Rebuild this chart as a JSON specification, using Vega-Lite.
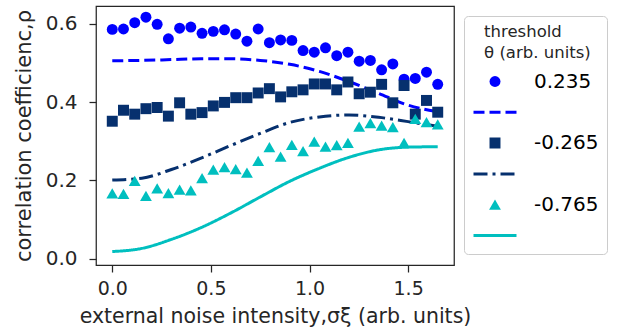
{
  "$schema": "https://vega.github.io/schema/vega-lite/v6.json",
  "width": 358,
  "height": 259,
  "autosize": {"type": "none"},
  "padding": {"left": 96, "top": 6, "right": 164, "bottom": 70},
  "config": {
    "font": "DejaVu Sans",
    "view": {"stroke": "#262626", "strokeWidth": 1.25},
    "axis": {
      "grid": false, "domain": false, "tickColor": "#262626", "tickWidth": 1.25, "tickSize": 7,
      "labelFontSize": 20, "titleFontSize": 20.5, "labelColor": "#262626", "titleColor": "#262626",
      "titleFontWeight": "normal"
    }
  },
  "datasets": {
    "pts": [
      {"key":"p1","x":0,"y":0.585},{"key":"p1","x":0.0569,"y":0.586},{"key":"p1","x":0.1138,"y":0.602},{"key":"p1","x":0.1707,"y":0.616},{"key":"p1","x":0.2276,"y":0.598},{"key":"p1","x":0.2845,"y":0.561},{"key":"p1","x":0.3414,"y":0.588},{"key":"p1","x":0.3983,"y":0.591},{"key":"p1","x":0.4552,"y":0.575},{"key":"p1","x":0.5121,"y":0.580},{"key":"p1","x":0.569,"y":0.584},{"key":"p1","x":0.6259,"y":0.573},{"key":"p1","x":0.6828,"y":0.555},{"key":"p1","x":0.7397,"y":0.586},{"key":"p1","x":0.7966,"y":0.551},{"key":"p1","x":0.8534,"y":0.558},{"key":"p1","x":0.9103,"y":0.557},{"key":"p1","x":0.9672,"y":0.531},{"key":"p1","x":1.0241,"y":0.527},{"key":"p1","x":1.081,"y":0.538},{"key":"p1","x":1.1379,"y":0.518},{"key":"p1","x":1.1948,"y":0.527},{"key":"p1","x":1.2517,"y":0.504},{"key":"p1","x":1.3086,"y":0.506},{"key":"p1","x":1.3655,"y":0.482},{"key":"p1","x":1.4224,"y":0.497},{"key":"p1","x":1.4793,"y":0.458},{"key":"p1","x":1.5362,"y":0.460},{"key":"p1","x":1.5931,"y":0.476},{"key":"p1","x":1.65,"y":0.445},
      {"key":"p2","x":0,"y":0.351},{"key":"p2","x":0.0569,"y":0.379},{"key":"p2","x":0.1138,"y":0.369},{"key":"p2","x":0.1707,"y":0.383},{"key":"p2","x":0.2276,"y":0.386},{"key":"p2","x":0.2845,"y":0.364},{"key":"p2","x":0.3414,"y":0.398},{"key":"p2","x":0.3983,"y":0.369},{"key":"p2","x":0.4552,"y":0.373},{"key":"p2","x":0.5121,"y":0.390},{"key":"p2","x":0.569,"y":0.399},{"key":"p2","x":0.6259,"y":0.411},{"key":"p2","x":0.6828,"y":0.411},{"key":"p2","x":0.7397,"y":0.423},{"key":"p2","x":0.7966,"y":0.434},{"key":"p2","x":0.8534,"y":0.413},{"key":"p2","x":0.9103,"y":0.426},{"key":"p2","x":0.9672,"y":0.431},{"key":"p2","x":1.0241,"y":0.446},{"key":"p2","x":1.081,"y":0.446},{"key":"p2","x":1.1379,"y":0.431},{"key":"p2","x":1.1948,"y":0.451},{"key":"p2","x":1.2517,"y":0.421},{"key":"p2","x":1.3086,"y":0.425},{"key":"p2","x":1.3655,"y":0.445},{"key":"p2","x":1.4224,"y":0.398},{"key":"p2","x":1.4793,"y":0.442},{"key":"p2","x":1.5362,"y":0.369},{"key":"p2","x":1.5931,"y":0.404},{"key":"p2","x":1.65,"y":0.374},
      {"key":"p3","x":0,"y":0.167},{"key":"p3","x":0.0569,"y":0.166},{"key":"p3","x":0.1138,"y":0.199},{"key":"p3","x":0.1707,"y":0.161},{"key":"p3","x":0.2276,"y":0.180},{"key":"p3","x":0.2845,"y":0.168},{"key":"p3","x":0.3414,"y":0.177},{"key":"p3","x":0.3983,"y":0.175},{"key":"p3","x":0.4552,"y":0.206},{"key":"p3","x":0.5121,"y":0.228},{"key":"p3","x":0.569,"y":0.234},{"key":"p3","x":0.6259,"y":0.229},{"key":"p3","x":0.6828,"y":0.220},{"key":"p3","x":0.7397,"y":0.250},{"key":"p3","x":0.7966,"y":0.285},{"key":"p3","x":0.8534,"y":0.261},{"key":"p3","x":0.9103,"y":0.291},{"key":"p3","x":0.9672,"y":0.275},{"key":"p3","x":1.0241,"y":0.299},{"key":"p3","x":1.081,"y":0.286},{"key":"p3","x":1.1379,"y":0.290},{"key":"p3","x":1.1948,"y":0.296},{"key":"p3","x":1.2517,"y":0.337},{"key":"p3","x":1.3086,"y":0.346},{"key":"p3","x":1.3655,"y":0.340},{"key":"p3","x":1.4224,"y":0.336},{"key":"p3","x":1.4793,"y":0.296},{"key":"p3","x":1.5362,"y":0.357},{"key":"p3","x":1.5931,"y":0.349},{"key":"p3","x":1.65,"y":0.343}
    ],
    "lines": [
      {"key":"l1","x":0,"y":0.505},{"key":"l1","x":0.15,"y":0.506},{"key":"l1","x":0.3,"y":0.508},{"key":"l1","x":0.45,"y":0.510},{"key":"l1","x":0.6,"y":0.510},{"key":"l1","x":0.75,"y":0.506},{"key":"l1","x":0.9,"y":0.496},{"key":"l1","x":1.05,"y":0.478},{"key":"l1","x":1.2,"y":0.452},{"key":"l1","x":1.35,"y":0.422},{"key":"l1","x":1.5,"y":0.392},{"key":"l1","x":1.65,"y":0.375},
      {"key":"l2","x":0,"y":0.201},{"key":"l2","x":0.15,"y":0.206},{"key":"l2","x":0.3,"y":0.228},{"key":"l2","x":0.45,"y":0.257},{"key":"l2","x":0.6,"y":0.289},{"key":"l2","x":0.75,"y":0.320},{"key":"l2","x":0.9,"y":0.348},{"key":"l2","x":1.05,"y":0.362},{"key":"l2","x":1.2,"y":0.367},{"key":"l2","x":1.35,"y":0.361},{"key":"l2","x":1.5,"y":0.350},{"key":"l2","x":1.65,"y":0.338},
      {"key":"l3","x":0,"y":0.019},{"key":"l3","x":0.15,"y":0.027},{"key":"l3","x":0.3,"y":0.050},{"key":"l3","x":0.45,"y":0.080},{"key":"l3","x":0.6,"y":0.117},{"key":"l3","x":0.75,"y":0.158},{"key":"l3","x":0.9,"y":0.198},{"key":"l3","x":1.05,"y":0.231},{"key":"l3","x":1.2,"y":0.259},{"key":"l3","x":1.35,"y":0.278},{"key":"l3","x":1.5,"y":0.285},{"key":"l3","x":1.65,"y":0.286}
    ]
  },
  "encoding": {
    "x": {"field": "x", "type": "quantitative",
      "scale": {"domain": [-0.0825, 1.7325], "nice": false, "zero": false},
      "axis": {"values": [0, 0.5, 1, 1.5], "format": ".1f", "title": "external noise intensity,σξ (arb. units)", "labelFontSize": 19, "labelPadding": 7, "titlePadding": 8}},
    "y": {"field": "y", "type": "quantitative",
      "scale": {"domain": [-0.0153, 0.6446], "nice": false, "zero": false},
      "axis": {"values": [0, 0.2, 0.4, 0.6], "format": ".1f", "title": "correlation coefficienc,ρ", "titleFontSize": 21, "labelPadding": 12, "titlePadding": 11}}
  },
  "layer": [
    {
      "data": {"name": "lines"},
      "mark": {"type": "line", "strokeWidth": 3, "interpolate": "monotone"},
      "encoding": {
        "stroke": {"field": "key", "type": "nominal",
          "scale": {"domain": ["p1","l1","p2","l2","p3","l3"], "range": ["transparent","#0000ff","transparent","#06306e","transparent","#00bfbf"]},
          "legend": {
            "orient": "none", "legendX": 368, "legendY": 10,
            "title": ["\u2800threshold", "\u2800θ (arb. units)"],
            "titleFontSize": 16.5, "titleFontWeight": "normal", "titleColor": "#262626", "titleLineHeight": 21, "titlePadding": 10,
            "labelFontSize": 20, "labelColor": "#000000", "labelOffset": 16,
            "labelExpr": "datum.value == 'p1' ? '0.235' : datum.value == 'p2' ? '-0.265' : datum.value == 'p3' ? '-0.765' : ''",
            "symbolStrokeWidth": 3, "clipHeight": 20, "rowPadding": 10.8,
            "padding": 8, "strokeColor": "#cccccc", "cornerRadius": 4, "fillColor": "#ffffff"
          }},
        "strokeDash": {"field": "key", "type": "nominal",
          "scale": {"domain": ["p1","l1","p2","l2","p3","l3"], "range": [[1, 0], [11, 5], [1, 0], [14, 5, 3, 5], [1, 0], [1, 0]]}}
      }
    },
    {
      "data": {"name": "pts"},
      "mark": {"type": "point", "filled": true, "opacity": 1},
      "encoding": {
        "fill": {"field": "key", "type": "nominal",
          "scale": {"domain": ["p1","l1","p2","l2","p3","l3"], "range": ["#0000ff","transparent","#06306e","transparent","#00bfbf","transparent"]}},
        "shape": {"field": "key", "type": "nominal",
          "scale": {"domain": ["p1","l1","p2","l2","p3","l3"], "range": ["circle","stroke","square","stroke","triangle-up","stroke"]}},
        "size": {"field": "key", "type": "nominal",
          "scale": {"type": "ordinal", "domain": ["p1","l1","p2","l2","p3","l3"], "range": [120, 1849, 120, 1849, 140, 1849]}}
      }
    }
  ]
}
